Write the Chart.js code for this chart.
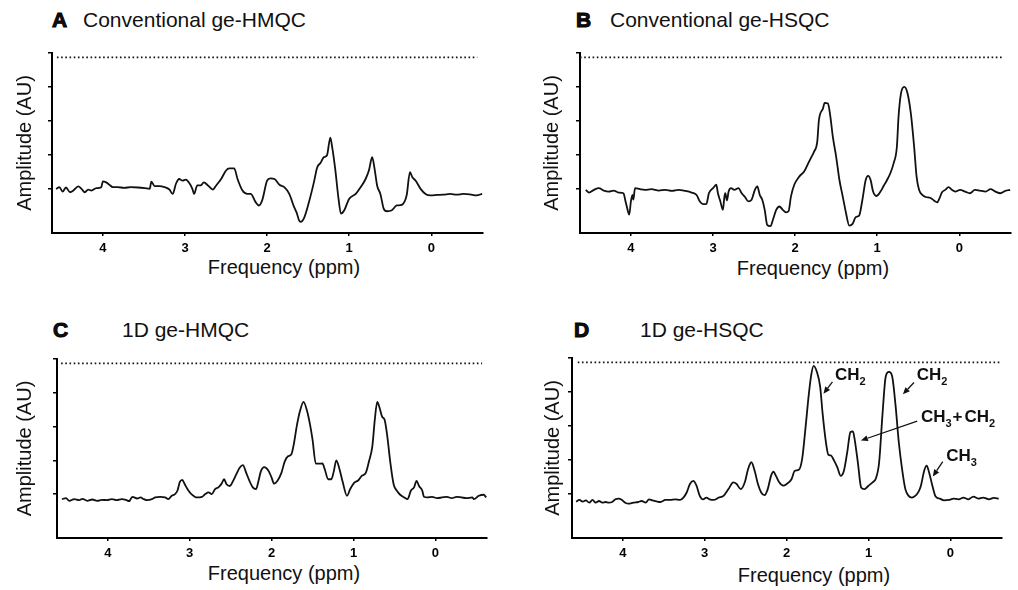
<!DOCTYPE html>
<html lang="en">
<head>
<meta charset="UTF-8">
<title>ge-HMQC / ge-HSQC spectra</title>
<script src="https://cdn.jsdelivr.net/npm/chart.js"></script>
<style>
  body { margin: 0; background: #fff; font-family: "Liberation Sans", Arial, sans-serif; color: #111; }
  .wrap { position: relative; width: 1018px; height: 590px; overflow: hidden; }
  .box { position: absolute; }
  .letter { position: absolute; font-weight: bold; font-size: 21px; line-height: 20px; -webkit-text-stroke: 1px #000; }
  .title { position: absolute; font-size: 21px; line-height: 20px; white-space: nowrap; }
  .xtitle { position: absolute; width: 220px; text-align: center; font-size: 20px; line-height: 20px; }
</style>
</head>
<body>
<div class="wrap">
  <div class="letter" style="left:52px;top:10px">A</div>
  <div class="title" style="left:83px;top:10px">Conventional ge-HMQC</div>
  <div class="letter" style="left:576px;top:10px">B</div>
  <div class="title" style="left:610px;top:10px">Conventional ge-HSQC</div>
  <div class="letter" style="left:53px;top:320px">C</div>
  <div class="title" style="left:122px;top:320px">1D ge-HMQC</div>
  <div class="letter" style="left:574px;top:320px">D</div>
  <div class="title" style="left:640px;top:320px">1D ge-HSQC</div>

  <div class="xtitle" style="left:174px;top:257px">Frequency (ppm)</div>
  <div class="xtitle" style="left:703px;top:258px">Frequency (ppm)</div>
  <div class="xtitle" style="left:174px;top:563px">Frequency (ppm)</div>
  <div class="xtitle" style="left:704px;top:565px">Frequency (ppm)</div>

  <div class="box" style="left:13px;top:40px;width:487px;height:223px"><canvas id="chartA" width="487" height="223"></canvas></div>
  <div class="box" style="left:540px;top:40px;width:476px;height:223px"><canvas id="chartB" width="476" height="223"></canvas></div>
  <div class="box" style="left:13px;top:345px;width:487px;height:223px"><canvas id="chartC" width="487" height="223"></canvas></div>
  <div class="box" style="left:541px;top:345px;width:475px;height:223px"><canvas id="chartD" width="475" height="223"></canvas></div>
</div>

<script>
// axis ticks
const xTicks = [4, 3, 2, 1, 0];
const yTicks = [0, 1, 2, 3, 4];
const refLevel = 3.87; // dotted reference line

// A: conventional ge-HMQC
const ppmA = [4.57,4.53,4.49,4.45,4.40,4.36,4.30,4.26,4.22,4.18,4.14,4.08,4.02,4.00,3.96,3.92,3.88,3.82,3.74,3.66,3.57,3.49,3.43,3.41,3.37,3.31,3.25,3.19,3.15,3.11,3.07,3.03,2.99,2.95,2.91,2.89,2.85,2.81,2.77,2.72,2.66,2.62,2.56,2.50,2.46,2.40,2.36,2.30,2.24,2.20,2.14,2.10,2.06,2.00,1.96,1.91,1.85,1.79,1.73,1.67,1.64,1.61,1.59,1.55,1.49,1.43,1.39,1.35,1.31,1.27,1.23,1.21,1.17,1.13,1.10,1.06,1.00,0.92,0.86,0.80,0.76,0.72,0.69,0.66,0.62,0.58,0.54,0.48,0.42,0.36,0.30,0.26,0.23,0.19,0.13,0.07,0.01,-0.07,-0.15,-0.23,-0.31,-0.39,-0.47,-0.55,-0.62];
const ampA = [0.00,0.05,-0.08,0.04,-0.10,-0.05,0.07,0.00,-0.10,-0.02,-0.05,0.02,0.05,0.22,0.19,0.12,0.05,0.05,0.03,0.05,0.04,0.02,0.00,0.21,0.08,0.08,0.05,-0.02,-0.15,0.15,0.29,0.24,0.27,0.18,0.00,-0.15,0.10,0.10,0.19,0.10,-0.02,0.10,0.29,0.54,0.60,0.60,0.29,-0.05,-0.15,-0.15,-0.39,-0.49,-0.34,0.24,0.31,0.29,0.12,0.05,-0.15,-0.54,-0.70,-0.93,-0.97,-0.86,-0.39,0.19,0.63,0.76,0.93,0.99,1.51,1.27,0.58,-0.29,-0.73,-0.63,-0.29,-0.15,0.05,0.29,0.54,0.93,0.58,0.10,-0.15,-0.58,-0.66,-0.63,-0.49,-0.47,-0.19,0.49,0.34,0.24,0.00,-0.15,-0.19,-0.18,-0.17,-0.15,-0.17,-0.15,-0.16,-0.19,-0.15];

// B: conventional ge-HSQC
const ppmB = [4.55,4.51,4.45,4.39,4.33,4.27,4.21,4.15,4.09,4.07,4.05,4.02,4.00,3.98,3.97,3.95,3.89,3.83,3.75,3.66,3.58,3.50,3.42,3.34,3.26,3.20,3.16,3.12,3.08,3.05,3.00,2.96,2.94,2.91,2.88,2.86,2.85,2.83,2.81,2.78,2.74,2.69,2.65,2.61,2.57,2.53,2.49,2.46,2.43,2.40,2.37,2.34,2.30,2.27,2.23,2.19,2.15,2.11,2.08,2.05,2.01,1.95,1.89,1.85,1.81,1.77,1.73,1.71,1.66,1.64,1.60,1.57,1.54,1.50,1.46,1.42,1.38,1.34,1.30,1.26,1.22,1.18,1.14,1.11,1.08,1.05,1.01,0.96,0.92,0.88,0.84,0.80,0.76,0.74,0.71,0.67,0.63,0.59,0.55,0.52,0.49,0.45,0.41,0.35,0.31,0.27,0.24,0.21,0.17,0.13,0.09,0.05,-0.01,-0.07,-0.13,-0.19,-0.25,-0.32,-0.38,-0.44,-0.50,-0.56,-0.62];
const ampB = [-0.03,-0.11,-0.03,0.02,-0.05,-0.08,-0.05,-0.11,-0.13,-0.32,-0.52,-0.76,-0.37,-0.18,-0.32,0.02,-0.01,-0.03,-0.01,-0.05,-0.03,-0.06,-0.03,-0.06,-0.11,-0.18,-0.37,-0.45,-0.44,-0.13,0.02,0.12,-0.13,-0.37,-0.62,-0.22,-0.13,-0.34,-0.08,0.02,-0.03,0.02,-0.13,-0.24,-0.37,-0.32,-0.03,0.07,-0.18,-0.32,-0.62,-1.06,-1.10,-0.91,-0.62,-0.52,-0.62,-0.69,-0.66,-0.22,0.12,0.36,0.51,0.70,0.90,1.09,1.39,2.02,2.37,2.53,2.51,2.12,1.53,0.95,0.26,-0.22,-0.71,-1.08,-1.03,-0.83,-0.79,-0.32,0.26,0.38,0.26,-0.08,-0.21,-0.08,0.09,0.26,0.46,0.75,1.24,2.12,2.81,3.00,2.81,2.22,1.24,0.36,-0.03,-0.18,-0.24,-0.27,-0.34,-0.40,-0.27,-0.10,-0.03,0.05,-0.03,-0.08,-0.03,-0.08,-0.13,-0.03,-0.05,-0.08,-0.01,-0.08,-0.13,-0.06,-0.03];

// C: 1D ge-HMQC
const ppmC = [4.56,4.51,4.47,4.41,4.35,4.31,4.25,4.19,4.13,4.07,4.01,3.95,3.89,3.83,3.77,3.74,3.70,3.64,3.60,3.56,3.52,3.46,3.42,3.36,3.30,3.26,3.22,3.18,3.15,3.12,3.09,3.06,3.02,2.98,2.91,2.85,2.81,2.77,2.73,2.69,2.65,2.61,2.58,2.55,2.51,2.47,2.43,2.39,2.35,2.31,2.27,2.23,2.19,2.16,2.13,2.09,2.04,2.00,1.97,1.93,1.88,1.84,1.80,1.76,1.73,1.69,1.65,1.61,1.57,1.53,1.50,1.46,1.42,1.38,1.35,1.31,1.27,1.24,1.21,1.17,1.13,1.08,1.04,0.99,0.94,0.90,0.85,0.81,0.77,0.74,0.71,0.68,0.65,0.62,0.59,0.55,0.51,0.47,0.43,0.38,0.34,0.30,0.26,0.23,0.20,0.16,0.14,0.10,0.04,-0.02,-0.08,-0.14,-0.20,-0.26,-0.32,-0.38,-0.45,-0.47,-0.53,-0.59,-0.62];
const ampC = [-0.15,-0.12,-0.20,-0.15,-0.18,-0.14,-0.20,-0.16,-0.20,-0.17,-0.18,-0.15,-0.18,-0.15,-0.18,-0.21,-0.08,-0.13,-0.10,-0.15,-0.18,-0.15,-0.10,-0.08,-0.10,-0.15,-0.05,0.00,0.10,0.36,0.42,0.29,0.12,0.00,-0.10,-0.08,0.00,0.05,0.00,0.15,0.20,0.31,0.44,0.29,0.24,0.39,0.59,0.78,0.86,0.63,0.39,0.20,0.15,0.39,0.68,0.80,0.70,0.49,0.31,0.39,0.63,0.96,1.12,1.17,1.46,2.05,2.49,2.73,2.49,2.05,1.61,0.90,0.90,0.91,0.73,0.44,0.44,0.68,1.00,0.73,0.34,-0.05,0.15,0.34,0.41,0.54,0.63,0.98,1.41,2.20,2.73,2.54,2.29,2.20,1.76,0.93,0.29,0.10,-0.02,-0.10,-0.15,0.10,0.20,0.39,0.24,0.10,-0.08,-0.10,-0.08,-0.12,-0.10,-0.08,-0.12,-0.08,-0.10,-0.12,-0.10,-0.15,-0.05,-0.02,-0.10];

// D: 1D ge-HSQC
const ppmD = [4.57,4.53,4.49,4.45,4.41,4.37,4.33,4.29,4.25,4.21,4.17,4.13,4.09,4.05,4.01,3.97,3.93,3.87,3.81,3.77,3.72,3.68,3.64,3.59,3.54,3.48,3.42,3.36,3.30,3.26,3.22,3.18,3.14,3.10,3.06,3.02,2.98,2.94,2.89,2.83,2.77,2.71,2.65,2.61,2.56,2.51,2.47,2.43,2.39,2.35,2.31,2.27,2.23,2.19,2.16,2.13,2.09,2.04,2.00,1.94,1.90,1.85,1.81,1.77,1.73,1.70,1.67,1.63,1.59,1.56,1.52,1.49,1.46,1.42,1.38,1.34,1.30,1.26,1.22,1.19,1.17,1.13,1.09,1.05,1.00,0.95,0.91,0.87,0.83,0.79,0.75,0.71,0.67,0.63,0.59,0.55,0.51,0.47,0.43,0.39,0.36,0.32,0.29,0.26,0.22,0.18,0.13,0.08,0.02,-0.04,-0.10,-0.16,-0.22,-0.28,-0.34,-0.40,-0.47,-0.53,-0.59];
const ampD = [-0.23,-0.18,-0.23,-0.19,-0.26,-0.18,-0.26,-0.21,-0.26,-0.24,-0.26,-0.24,-0.16,-0.14,-0.18,-0.26,-0.29,-0.26,-0.24,-0.21,-0.26,-0.16,-0.19,-0.22,-0.24,-0.18,-0.18,-0.16,-0.18,-0.11,0.04,0.29,0.38,0.24,-0.06,-0.16,-0.11,-0.16,-0.18,-0.11,-0.06,0.14,0.34,0.29,0.14,0.34,0.73,0.93,0.68,0.29,0.04,-0.04,0.14,0.53,0.65,0.53,0.34,0.24,0.29,0.43,0.68,0.71,1.03,1.92,2.90,3.49,3.77,3.59,3.15,2.36,1.52,1.15,1.13,0.98,0.78,0.53,0.68,1.22,1.82,1.84,1.62,0.93,0.19,0.14,0.24,0.34,0.45,0.93,2.31,3.45,3.59,3.45,2.61,1.52,0.73,0.14,-0.06,-0.11,-0.06,0.06,0.24,0.68,0.83,0.63,0.24,-0.08,-0.14,-0.19,-0.18,-0.14,-0.16,-0.11,-0.16,-0.08,-0.14,-0.11,-0.16,-0.12,-0.14];

// peak labels in panel D (ppm, amplitude)
const noteParts = [
  [['CH', 0], ['2', 1]],
  [['CH', 0], ['2', 1]],
  [['CH', 0], ['3', 1], ['+', 0], ['CH', 0], ['2', 1]],
  [['CH', 0], ['3', 1]]
];
const noteAt = [[1.41, 3.35], [0.41, 3.35], [0.36, 2.11], [0.05, 0.98]];
const arrowFrom = [[1.44, 3.30], [0.445, 3.28], [0.405, 2.14], [0.093, 0.95]];
const arrowTo = [[1.55, 2.95], [0.58, 2.93], [1.093, 1.57], [0.215, 0.51]];

Chart.defaults.font.family = '"Liberation Sans", Arial, sans-serif';
Chart.defaults.color = '#111';

const peakNotes = {
  id: 'peakNotes',
  afterDatasetsDraw(chart) {
    const ctx = chart.ctx, xs = chart.scales.x, ys = chart.scales.y;
    ctx.save();
    ctx.strokeStyle = '#111';
    ctx.fillStyle = '#111';
    ctx.lineWidth = 1.3;
    arrowFrom.forEach((from, i) => {
      const x1 = xs.getPixelForValue(from[0]), y1 = ys.getPixelForValue(from[1]);
      const x2 = xs.getPixelForValue(arrowTo[i][0]), y2 = ys.getPixelForValue(arrowTo[i][1]);
      const a = Math.atan2(y2 - y1, x2 - x1);
      const hl = 7, hw = 3;
      ctx.beginPath();
      ctx.moveTo(x1, y1);
      ctx.lineTo(x2 - hl * Math.cos(a), y2 - hl * Math.sin(a));
      ctx.stroke();
      ctx.beginPath();
      ctx.moveTo(x2, y2);
      ctx.lineTo(x2 - hl * Math.cos(a) + hw * Math.sin(a), y2 - hl * Math.sin(a) - hw * Math.cos(a));
      ctx.lineTo(x2 - hl * Math.cos(a) - hw * Math.sin(a), y2 - hl * Math.sin(a) + hw * Math.cos(a));
      ctx.closePath();
      ctx.fill();
    });
    ctx.textBaseline = 'alphabetic';
    ctx.textAlign = 'left';
    noteParts.forEach((parts, i) => {
      let x = xs.getPixelForValue(noteAt[i][0]);
      const y = ys.getPixelForValue(noteAt[i][1]);
      parts.forEach(([txt, sub]) => {
        ctx.font = sub ? 'bold 11px "Liberation Sans", Arial' : 'bold 17px "Liberation Sans", Arial';
        if (txt === '+') x += 1;
        ctx.fillText(txt, x, sub ? y + 5 : y);
        x += ctx.measureText(txt).width + (txt === '+' ? 2 : 0);
      });
    });
    ctx.restore();
  }
};

function makeChart(id, ppm, amp, dots, area, box, notes) {
  const points = ppm.map((x, i) => ({ x: x, y: amp[i] }));
  return new Chart(document.getElementById(id), {
    type: 'line',
    data: {
      datasets: [
        {
          data: points,
          borderColor: '#111',
          borderWidth: 1.8,
          pointRadius: 0,
          cubicInterpolationMode: 'monotone'
        },
        {
          data: [{ x: dots[0], y: refLevel }, { x: dots[1], y: refLevel }],
          borderColor: '#111',
          borderWidth: 1.6,
          borderDash: [1.6, 2.6],
          pointRadius: 0
        }
      ]
    },
    options: {
      responsive: false,
      animation: false,
      events: [],
      layout: { padding: { top: area.top - box.top, right: box.right - area.right, left: 0, bottom: 0 } },
      plugins: { legend: { display: false }, tooltip: { enabled: false } },
      scales: {
        x: {
          type: 'linear',
          reverse: true,
          min: -0.63,
          max: 4.62,
          afterBuildTicks: s => { s.ticks = xTicks.map(v => ({ value: v })); },
          afterFit: s => { s.height = box.bottom - area.bottom; },
          grid: { drawOnChartArea: false, drawTicks: true, tickLength: 3, color: '#000', lineWidth: 1.5 },
          border: { color: '#000', width: 2 },
          ticks: {
            padding: 5,
            maxRotation: 0,
            autoSkip: false,
            color: '#000',
            font: { size: 13, weight: 'bold' },
            callback: v => String(v)
          }
        },
        y: {
          type: 'linear',
          min: -1.3,
          max: 4,
          afterBuildTicks: s => { s.ticks = yTicks.map(v => ({ value: v })); },
          afterFit: s => { s.width = area.left - box.left; },
          grid: { drawOnChartArea: false, drawTicks: true, tickLength: 4, color: '#000', lineWidth: 1.5 },
          border: { color: '#000', width: 2 },
          ticks: { display: false },
          title: { display: true, text: 'Amplitude (AU)', color: '#111', font: { size: 20 }, padding: 0 }
        }
      }
    },
    plugins: notes ? [peakNotes] : []
  });
}

makeChart('chartA', ppmA, ampA, [4.56, -0.56],
  { left: 52, top: 53, right: 483, bottom: 233 }, { left: 13, top: 40, right: 500, bottom: 263 });
makeChart('chartB', ppmB, ampB, [4.62, -0.52],
  { left: 580, top: 53, right: 1011, bottom: 233 }, { left: 540, top: 40, right: 1016, bottom: 263 });
makeChart('chartC', ppmC, ampC, [4.57, -0.57],
  { left: 57, top: 359, right: 487, bottom: 538 }, { left: 13, top: 345, right: 500, bottom: 568 });
makeChart('chartD', ppmD, ampD, [4.55, -0.60],
  { left: 572, top: 358, right: 1002, bottom: 538 }, { left: 541, top: 345, right: 1016, bottom: 568 }, true);
</script>
</body>
</html>
